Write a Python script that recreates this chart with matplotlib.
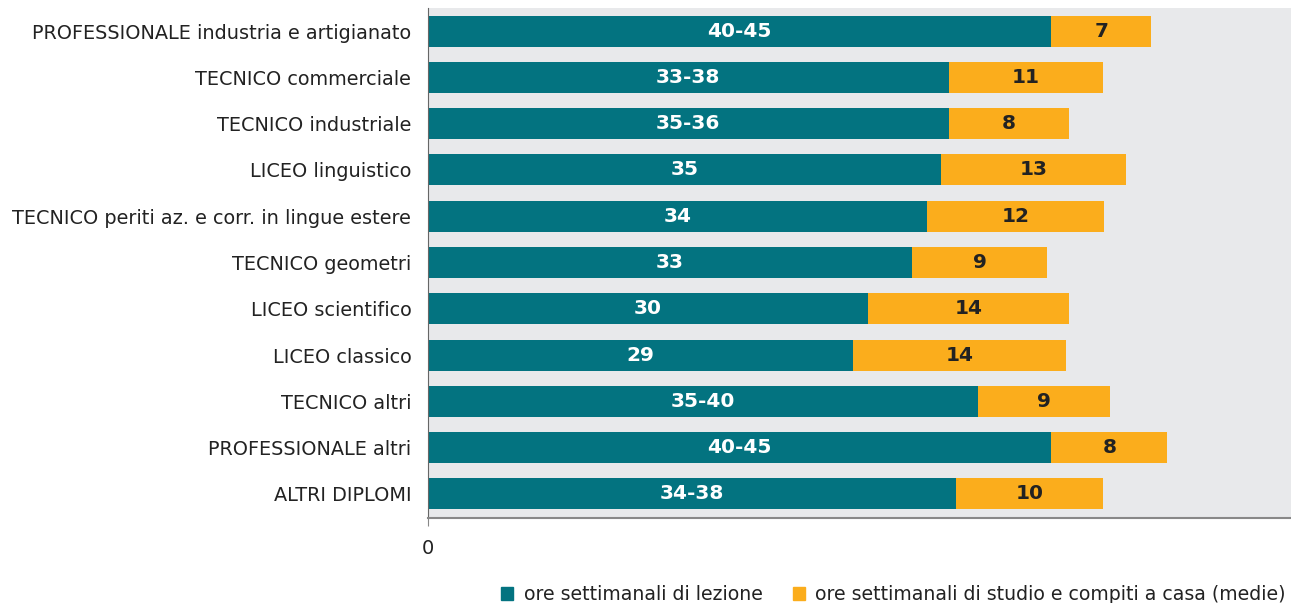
import matplotlib
matplotlib.use("Agg")
import matplotlib.pyplot as plt
from matplotlib.patches import Patch

# categories (top to bottom) and values
categories = ["PROFESSIONALE industria e artigianato", "TECNICO commerciale", "TECNICO industriale",
              "LICEO linguistico", "TECNICO periti az. e corr. in lingue estere", "TECNICO geometri",
              "LICEO scientifico", "LICEO classico", "TECNICO altri", "PROFESSIONALE altri",
              "ALTRI DIPLOMI"]
lezione = [42.5, 35.5, 35.5, 35.0, 34.0, 33.0, 30.0, 29.0, 37.5, 42.5, 36.0]
lezioneLabels = ["40-45", "33-38", "35-36", "35", "34", "33", "30", "29", "35-40", "40-45", "34-38"]
studio = [6.8, 10.5, 8.2, 12.6, 12.1, 9.2, 13.7, 14.5, 9.0, 7.9, 10.0]
studioLabels = ["7", "11", "8", "13", "12", "9", "14", "14", "9", "8", "10"]
seriesNames = ["ore settimanali di lezione", "ore settimanali di studio e compiti a casa (medie)"]

teal = "#037380"
orange = "#FBAD1C"
W, H = 1291, 603
fs = 13.9

fig = plt.figure(figsize=(W / 100, H / 100), dpi=100)
ax = fig.add_axes([428 / W, 1 - 518 / H, 880 / W, 510 / H])
ax.set_facecolor("#E8E9EB")

y = list(range(len(categories)))
ax.barh(y, lezione, height=0.67, color=teal)
ax.barh(y, studio, left=lezione, height=0.67, color=orange)

# value labels in the middle of each segment
for i in y:
    ax.text(lezione[i] / 2, i, lezioneLabels[i], ha="center", va="center",
            color="white", fontsize=14.5, fontweight="bold")
    ax.text(lezione[i] + studio[i] / 2, i, studioLabels[i], ha="center", va="center",
            color="#222222", fontsize=14.5, fontweight="bold")

ax.set_ylim(len(categories) - 0.48, -0.5)
ax.set_xlim(0, 60)
ax.set_yticks(y)
ax.set_yticklabels(categories, fontsize=fs, color="#222222")
ax.tick_params(axis="y", length=0, pad=12)
ax.set_xticks([0])
ax.set_xticklabels(["0"], fontsize=fs, color="#222222")
ax.tick_params(axis="x", length=6, color="#888888", pad=9)

for side in ("top", "right"):
    ax.spines[side].set_visible(False)
ax.spines["left"].set_color("#666666")
ax.spines["bottom"].set_color("#888888")
ax.spines["bottom"].set_linewidth(1.5)

handles = [Patch(color=teal), Patch(color=orange)]
fig.legend(handles, seriesNames, loc="lower left", bbox_to_anchor=(484 / W, -0.03),
           ncol=2, frameon=False, fontsize=13.6, handlelength=0.65, handleheight=0.65,
           handletextpad=0.55, columnspacing=1.6, labelcolor="#222222")

fig.savefig("out.png", dpi=100)
